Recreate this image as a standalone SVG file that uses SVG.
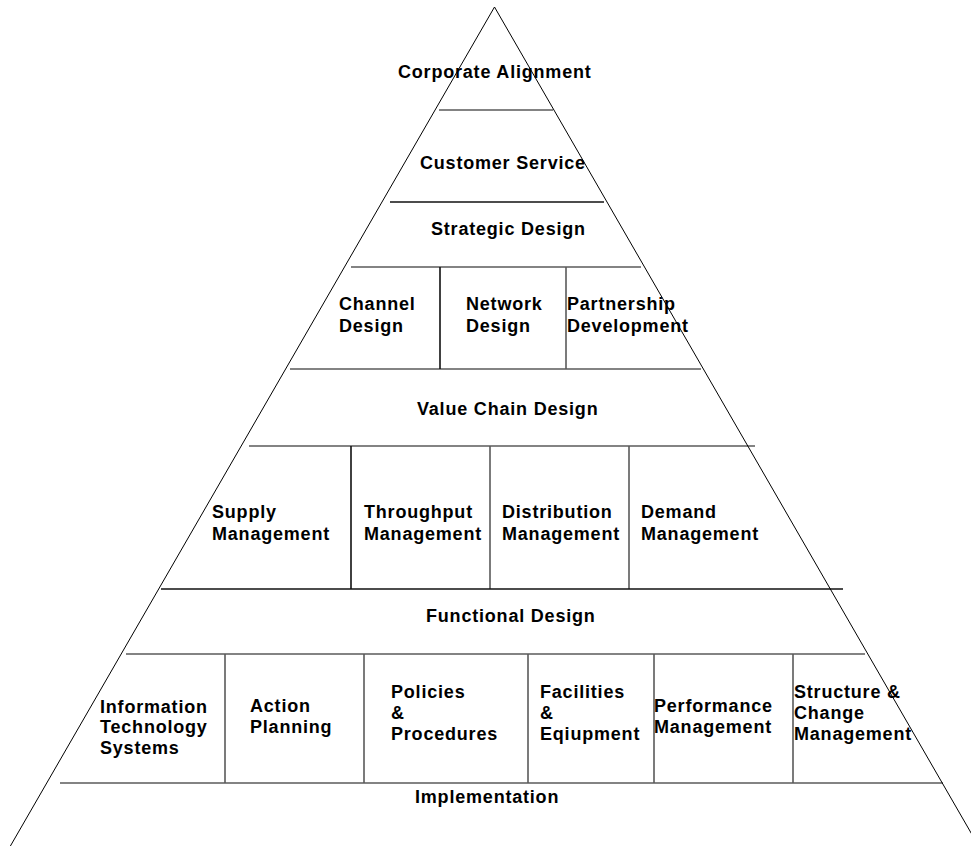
<svg xmlns="http://www.w3.org/2000/svg" width="971" height="846" viewBox="0 0 971 846">
<style>
text{font-family:"Liberation Sans",Arial,sans-serif;font-weight:bold;font-size:18px;letter-spacing:0.8px;fill:#000}
.edge{stroke:#000;stroke-width:1;fill:none}
.g{stroke:#5a5a5a;stroke-width:1.6;fill:none}
.k{stroke:#111;stroke-width:1.6;fill:none}
</style>
<rect width="971" height="846" fill="#fff"/>
<g id="frame">
<line class="g" x1="439" y1="110" x2="553" y2="110"/>
<line class="k" x1="390" y1="202" x2="604" y2="202"/>
<line class="g" x1="351" y1="267" x2="641" y2="267"/>
<line class="g" x1="290" y1="369" x2="701" y2="369"/>
<line class="k" x1="440" y1="267" x2="440" y2="369"/>
<line class="g" x1="566" y1="267" x2="566" y2="369"/>
<line class="g" x1="249" y1="446" x2="755" y2="446"/>
<line class="k" x1="351" y1="446" x2="351" y2="589"/>
<line class="g" x1="490" y1="446" x2="490" y2="589"/>
<line class="g" x1="629" y1="446" x2="629" y2="589"/>
<line class="k" x1="161" y1="589" x2="843" y2="589"/>
<line class="g" x1="126" y1="654" x2="865" y2="654"/>
<line class="g" x1="225" y1="654" x2="225" y2="783"/>
<line class="g" x1="364" y1="654" x2="364" y2="783"/>
<line class="g" x1="528" y1="654" x2="528" y2="783"/>
<line class="g" x1="654" y1="654" x2="654" y2="783"/>
<line class="g" x1="793" y1="654" x2="793" y2="783"/>
<line class="g" x1="60" y1="783" x2="943" y2="783"/>
<polyline class="edge" points="10.4,846 494.5,7 978.6,846"/>
</g>
<g id="corporate-alignment"><text x="398" y="78">Corporate Alignment</text></g>
<g id="customer-service"><text x="420" y="169">Customer Service</text></g>
<g id="strategic-design"><text x="431" y="235">Strategic Design</text></g>
<g id="channel-design"><text x="339" y="310">Channel</text><text x="339" y="331.5">Design</text></g>
<g id="network-design"><text x="466" y="310">Network</text><text x="466" y="331.5">Design</text></g>
<g id="partnership-development"><text x="567" y="310">Partnership</text><text x="567" y="331.5">Development</text></g>
<g id="value-chain-design"><text x="417" y="415">Value Chain Design</text></g>
<g id="supply-management"><text x="212" y="518">Supply</text><text x="212" y="540">Management</text></g>
<g id="throughput-management"><text x="364" y="518">Throughput</text><text x="364" y="540">Management</text></g>
<g id="distribution-management"><text x="502" y="518">Distribution</text><text x="502" y="540">Management</text></g>
<g id="demand-management"><text x="641" y="518">Demand</text><text x="641" y="540">Management</text></g>
<g id="functional-design"><text x="426" y="621.5">Functional Design</text></g>
<g id="information-technology-systems"><text x="100" y="712.5">Information</text><text x="100" y="733">Technology</text><text x="100" y="754">Systems</text></g>
<g id="action-planning"><text x="250" y="712">Action</text><text x="250" y="733">Planning</text></g>
<g id="policies-procedures"><text x="391" y="698">Policies</text><text x="391" y="719">&amp;</text><text x="391" y="740">Procedures</text></g>
<g id="facilities-equipment"><text x="540" y="698">Facilities</text><text x="540" y="719">&amp;</text><text x="540" y="740">Eqiupment</text></g>
<g id="performance-management"><text x="654" y="712">Performance</text><text x="654" y="733">Management</text></g>
<g id="structure-change-management"><text x="794" y="698">Structure &amp;</text><text x="794" y="719">Change</text><text x="794" y="740">Management</text></g>
<g id="implementation"><text x="415" y="803">Implementation</text></g>
</svg>
